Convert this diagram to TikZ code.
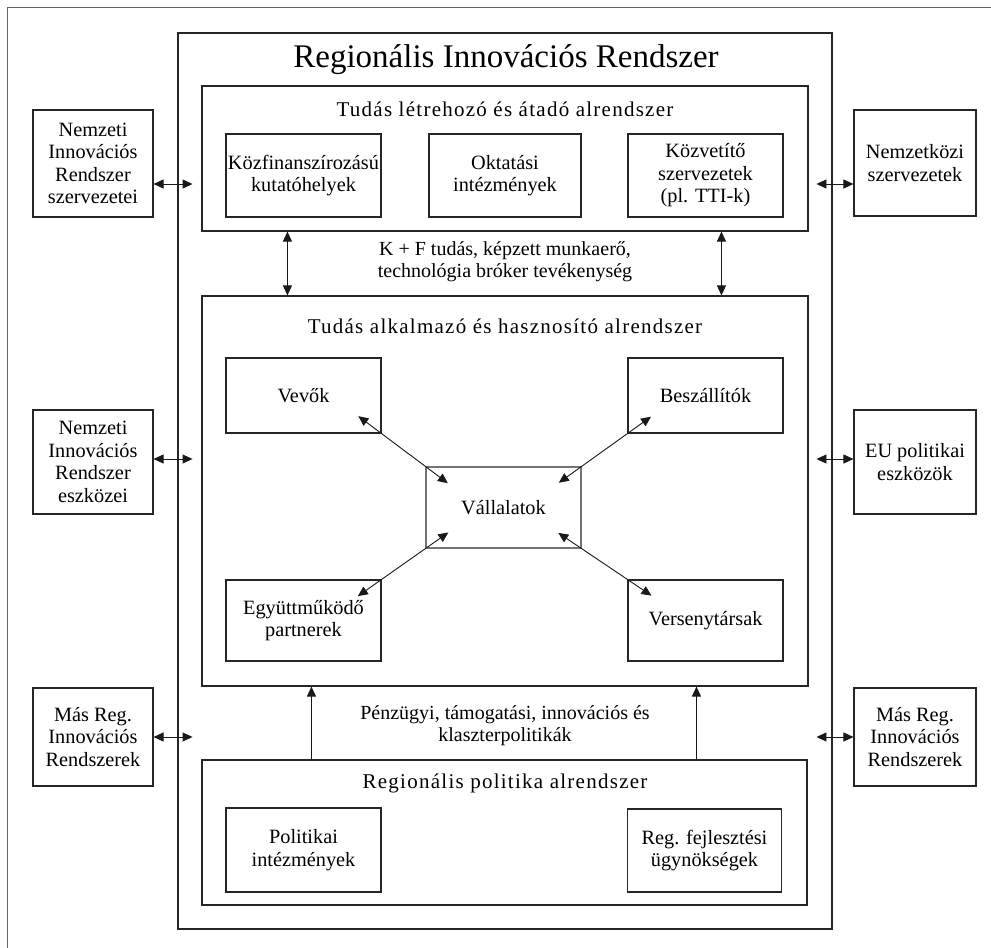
\documentclass[tikz,border=0pt]{standalone}
\usepackage{fontspec}
\setmainfont{Liberation Serif}
\newfontfamily\spacedfont[LetterSpace=6]{Liberation Serif}
\usetikzlibrary{arrows.meta}
\begin{document}
\begin{tikzpicture}[x=1pt,y=-1pt,
  box/.style={draw=black!85, line width=1.1pt, inner sep=2pt, align=center,
    font=\fontsize{20.3}{22.5}\selectfont, text=black},
  lightbox/.style={box, draw=black!55},
  txt/.style={align=center, font=\fontsize{20}{22.5}\selectfont, text=black},
  subtitle/.style={font=\spacedfont\fontsize{21}{24}\selectfont, text=black},
  >={Triangle[length=10pt,width=9pt]},
  conn/.style={line width=0.9pt, draw=black!90},
]
\useasboundingbox (0,0) rectangle (991,948);
\draw[black!60, line width=1pt] (7,948) -- (7,7) -- (991,7);

% main frame
\node[box, minimum width=654pt, minimum height=896pt] (main) at (505,481) {};
\node[font=\fontsize{33}{36}\selectfont, text=black] (title) at (506,60) {Regionális Innovációs Rendszer};

% top subsystem
\node[box, minimum width=606pt, minimum height=145pt] (topsub) at (505,158.5) {};
\node[subtitle] (toptitle) at (505,109) {Tudás létrehozó és átadó alrendszer};
\node[box, minimum width=155pt, minimum height=83pt] (kozfin) at (303.5,175.5) {Közfinanszírozású\\kutatóhelyek};
\node[box, minimum width=152pt, minimum height=83pt] (oktat) at (505,175.5) {Oktatási\\intézmények};
\node[box, minimum width=155pt, minimum height=83pt] (kozvet) at (705.5,175.5) {Közvetítő\\szervezetek\\(pl. TTI-k)};

% middle subsystem
\node[box, minimum width=606pt, minimum height=390pt] (midsub) at (505,491) {};
\node[subtitle] (midtitle) at (505,326) {Tudás alkalmazó és hasznosító alrendszer};
\node[box, minimum width=155pt, minimum height=75pt] (vevok) at (303.5,395.5) {Vevők};
\node[box, minimum width=155pt, minimum height=75pt] (beszall) at (705.5,395.5) {Beszállítók};
\node[lightbox, minimum width=155pt, minimum height=81pt] (vall) at (503.5,507.5) {Vállalatok};
\node[box, minimum width=155pt, minimum height=81pt] (egyutt) at (303.5,620.5) {Együttműködő\\partnerek};
\node[box, minimum width=155pt, minimum height=81pt] (verseny) at (705.5,620.5) {Versenytársak};

% bottom subsystem
\node[box, minimum width=605pt, minimum height=145pt] (botsub) at (504.5,832.5) {};
\node[subtitle] (bottitle) at (505,783) {Regionális politika alrendszer};
\node[box, minimum width=155pt, minimum height=84pt] (polint) at (303.5,850) {Politikai\\intézmények};
\node[box, minimum width=154pt, minimum height=83pt] (regfejl) at (704.5,850.5) {Reg. fejlesztési\\ügynökségek};

% texts between subsystems
\node[txt] (kf) at (505,261.5) {K + F tudás, képzett munkaerő,\\technológia bróker tevékenység};
\node[txt] (penz) at (505,725.5) {Pénzügyi, támogatási, innovációs és\\klaszterpolitikák};

% left external boxes
\node[box, minimum width=120pt, minimum height=107pt] (nisz) at (93,163.5) {Nemzeti\\Innovációs\\Rendszer\\szervezetei};
\node[box, minimum width=120pt, minimum height=104pt] (nise) at (93,462) {Nemzeti\\Innovációs\\Rendszer\\eszközei};
\node[box, minimum width=120pt, minimum height=98pt] (masl) at (93,737) {Más Reg.\\Innovációs\\Rendszerek};

% right external boxes
\node[box, minimum width=122pt, minimum height=106pt] (nemzk) at (915,163) {Nemzetközi\\szervezetek};
\node[box, minimum width=122pt, minimum height=104pt] (eupol) at (915,462) {EU politikai\\eszközök};
\node[box, minimum width=122pt, minimum height=98pt] (masr) at (915,737) {Más Reg.\\Innovációs\\Rendszerek};

% external connectors
\draw[conn,<->] ([yshift=-20.5pt]nisz.east) -- ++(39,0);
\draw[conn,<->] ([yshift=3pt]nise.east) -- ++(39,0);
\draw[conn,<->] (masl.east) -- ++(39,0);
\draw[conn,<->] ([yshift=-21pt]nemzk.west) -- ++(-37,0);
\draw[conn,<->] ([yshift=3pt]eupol.west) -- ++(-37,0);
\draw[conn,<->] (masr.west) -- ++(-37,0);

% vertical connectors
\draw[conn,<->] ([xshift=86pt]topsub.south west) -- ([xshift=86pt]midsub.north west);
\draw[conn,<->] ([xshift=520pt]topsub.south west) -- ([xshift=520pt]midsub.north west);
\draw[conn,->] ([xshift=110pt]botsub.north west) -- ([xshift=110pt]midsub.south west);
\draw[conn,->] ([xshift=495pt]botsub.north west) -- ([xshift=495pt]midsub.south west);

% diagonal connectors
\draw[conn,<->,shorten <=-29pt,shorten >=-28pt] (vevok.south east) -- (vall.north west);
\draw[conn,<->,shorten <=-29pt,shorten >=-28pt] (beszall.south west) -- (vall.north east);
\draw[conn,<->,shorten <=-29pt,shorten >=-28pt] (egyutt.north east) -- (vall.south west);
\draw[conn,<->,shorten <=-29pt,shorten >=-28pt] (verseny.north west) -- (vall.south east);
\end{tikzpicture}
\end{document}
